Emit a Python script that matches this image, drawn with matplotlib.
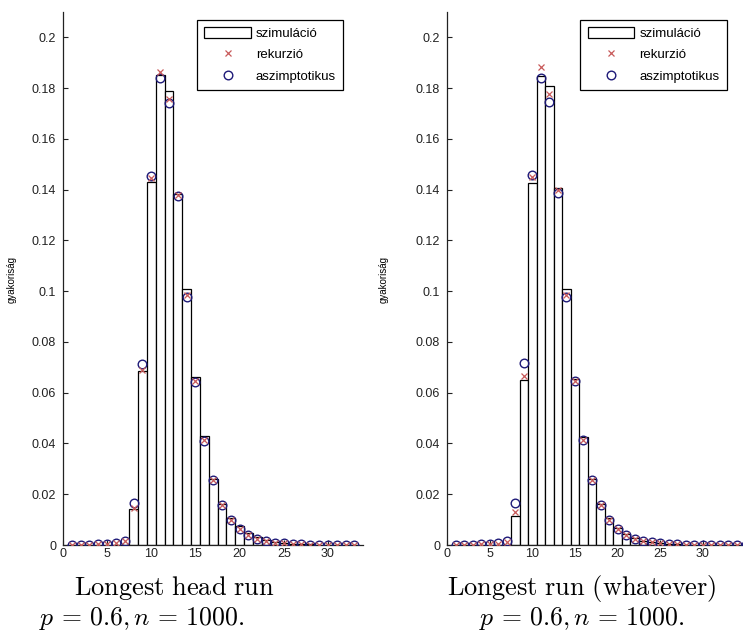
import matplotlib
matplotlib.use("Agg")
import matplotlib.pyplot as plt
import numpy as np

plt.rcParams['mathtext.fontset'] = 'cm'
plt.rcParams['font.family'] = ['Liberation Sans', 'DejaVu Sans']

# ---- data: left panel (longest head run) ----
x_left = list(range(1, 34))
sim_left = [0, 0, 0, 0, 0, 0, 0, 0.0142, 0.0685, 0.1430, 0.1850, 0.1790, 0.1382,
            0.1008, 0.0660, 0.0429, 0.0262, 0.0160, 0.0108, 0.0074, 0.0048, 0.0032,
            0.0019, 0.0011, 0.0007, 0.0004, 0.0003, 0.0002, 0.0001, 0, 0, 0, 0]
rec_left = [0.0000, 0.0000, 0.0001, 0.0002, 0.0003, 0.0006, 0.0015, 0.0145, 0.0690,
            0.1445, 0.1864, 0.1758, 0.1380, 0.0985, 0.0646, 0.0412, 0.0258, 0.0159,
            0.0098, 0.0062, 0.0039, 0.0024, 0.0015, 0.0009, 0.0006, 0.0004, 0.0002,
            0.0001, 0.0001, 0.0001, 0, 0, 0]
asym_left = [0.0000, 0.0000, 0.0001, 0.0002, 0.0003, 0.0006, 0.0016, 0.0165, 0.0713,
             0.1453, 0.1840, 0.1740, 0.1374, 0.0976, 0.0643, 0.0410, 0.0256, 0.0157,
             0.0098, 0.0062, 0.0039, 0.0024, 0.0015, 0.0009, 0.0006, 0.0004, 0.0002,
             0.0001, 0.0001, 0.0001, 0, 0, 0]

# ---- data: right panel (longest run, whatever) ----
x_right = list(range(1, 36))
sim_right = [0, 0, 0, 0, 0, 0, 0, 0.0114, 0.0650, 0.1425, 0.1848, 0.1810, 0.1405,
             0.1010, 0.0655, 0.0425, 0.0262, 0.0160, 0.0106, 0.0068, 0.0043, 0.0028,
             0.0017, 0.0010, 0.0006, 0.0004, 0.0002, 0.0001, 0.0001, 0, 0, 0, 0, 0, 0]
rec_right = [0, 0, 0.0001, 0.0002, 0.0003, 0.0005, 0.0013, 0.0130, 0.0665, 0.1450,
             0.1882, 0.1776, 0.1400, 0.0985, 0.0646, 0.0412, 0.0258, 0.0159, 0.0100,
             0.0063, 0.0040, 0.0025, 0.0016, 0.0010, 0.0006, 0.0004, 0.0002, 0.0001,
             0.0001, 0.0001, 0, 0, 0, 0, 0]
asym_right = [0, 0, 0.0001, 0.0002, 0.0003, 0.0006, 0.0016, 0.0165, 0.0716, 0.1456,
              0.1839, 0.1744, 0.1386, 0.0976, 0.0646, 0.0413, 0.0256, 0.0157, 0.0100,
              0.0063, 0.0040, 0.0025, 0.0016, 0.0010, 0.0006, 0.0004, 0.0002, 0.0001,
              0.0001, 0.0001, 0, 0, 0, 0, 0]

legend_labels = ['szimuláció', 'rekurzió', 'aszimptotikus']
ylabel = 'gyakoriság'
yticks = [0, 0.02, 0.04, 0.06, 0.08, 0.1, 0.12, 0.14, 0.16, 0.18, 0.2]
ytick_labels = ['0', '0.02', '0.04', '0.06', '0.08', '0.1', '0.12', '0.14', '0.16', '0.18', '0.2']
xticks = [0, 5, 10, 15, 20, 25, 30]

W, H = 743, 634
fig = plt.figure(figsize=(W / 100, H / 100), dpi=100)

REC_COLOR = '#c85a5a'
ASYM_COLOR = '#1e1a78'


def panel(left_px, px_per_unit, xmax, xs, sim, rec, asym, ylabel_x):
    bottom_px, top_px = 545, 12
    ax = fig.add_axes([left_px / W, (H - bottom_px) / H,
                       xmax * px_per_unit / W, (bottom_px - top_px) / H])
    b = ax.bar(xs, sim, width=1.0, color='white', edgecolor='black', linewidth=0.9,
               label=legend_labels[0], zorder=2)
    l1, = ax.plot(xs, rec, linestyle='none', marker='x', color=REC_COLOR, markersize=4.5,
                  markeredgewidth=0.9, label=legend_labels[1], zorder=4)
    l2, = ax.plot(xs, asym, linestyle='none', marker='o', markerfacecolor='none',
                  markeredgecolor=ASYM_COLOR, markersize=6.2, markeredgewidth=1.0,
                  label=legend_labels[2], zorder=3)
    ax.set_xlim(0, xmax)
    ax.set_ylim(0, 0.21)
    ax.set_yticks(yticks)
    ax.set_yticklabels(ytick_labels)
    ax.set_xticks(xticks)
    ax.spines['top'].set_visible(False)
    ax.spines['right'].set_visible(False)
    for s in ('left', 'bottom'):
        ax.spines[s].set_linewidth(0.9)
        ax.spines[s].set_color('#222222')
    ax.tick_params(axis='both', direction='in', length=3.5, width=0.8,
                   labelsize=9, colors='#222222')
    ax.tick_params(axis='y', pad=5)
    ax.tick_params(axis='x', pad=2)
    leg = ax.legend([b, l1, l2], legend_labels, loc='upper left',
                    bbox_to_anchor=(0.447, 0.985), fontsize=9.5,
                    frameon=True, fancybox=False, framealpha=1, edgecolor='black',
                    handlelength=3.5, handleheight=0.9, handletextpad=0.4,
                    labelspacing=0.62, borderpad=0.55, borderaxespad=0)
    leg.get_frame().set_linewidth(0.9)
    fig.text(ylabel_x / W, 1 - 280 / H, ylabel, rotation=90, fontsize=7,
             ha='center', va='center')
    return ax


panel(63, 8.83, 34, x_left, sim_left, rec_left, asym_left, 12)
panel(447, 8.53, 35, x_right, sim_right, rec_right, asym_right, 384)

cap_fs = 19
eq = r'$p\,=\,0.6,n\,=\,1000.$'
fig.text(174 / W, 1 - 588 / H, r'$\mathrm{Longest\ head\ run}$', fontsize=cap_fs,
         ha='center', va='center')
fig.text(142 / W, 1 - 619 / H, eq, fontsize=18.5, ha='center', va='center')
fig.text(582 / W, 1 - 588 / H, r'$\mathrm{Longest\ run\ (whatever)}$', fontsize=cap_fs,
         ha='center', va='center')
fig.text(582 / W, 1 - 619 / H, eq, fontsize=18.5, ha='center', va='center')

fig.savefig('out.png', dpi=100)
